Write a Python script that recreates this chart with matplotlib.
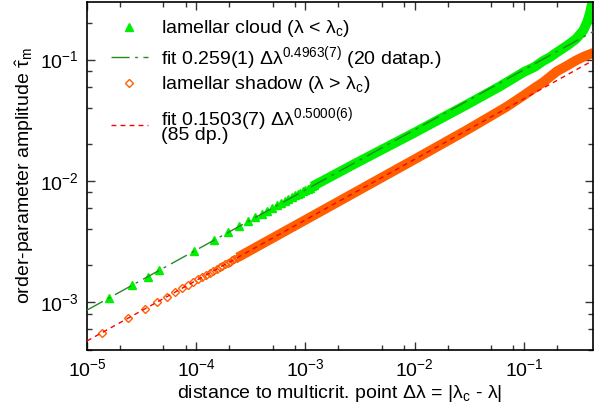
import numpy as np
import matplotlib
matplotlib.use('Agg')
import matplotlib.pyplot as plt
from matplotlib.ticker import LogLocator, NullFormatter

plt.rcParams['font.family'] = ['Liberation Sans', 'DejaVu Sans']
plt.rcParams['mathtext.fontset'] = 'custom'
plt.rcParams['mathtext.rm'] = 'Liberation Sans'
plt.rcParams['mathtext.it'] = 'Liberation Sans:italic'
plt.rcParams['mathtext.bf'] = 'Liberation Sans:bold'
plt.rcParams['axes.unicode_minus'] = False

# lamellar cloud: sparse data points (first 20 were used for the fit)
cloud_dl = [1.6e-5, 2.6e-5, 3.6e-5, 4.6e-5, 9.6e-5, 1.46e-4, 1.96e-4, 2.46e-4,
            2.96e-4, 3.46e-4, 3.96e-4, 4.46e-4, 4.96e-4, 5.46e-4, 5.96e-4,
            6.46e-4, 6.96e-4, 7.46e-4, 7.96e-4, 8.46e-4, 8.96e-4, 9.46e-4,
            9.96e-4, 1.046e-3, 1.096e-3, 1.146e-3, 1.196e-3]
cloud_tau = [1.080e-3, 1.376e-3, 1.618e-3, 1.828e-3, 2.638e-3, 3.250e-3,
             3.765e-3, 4.216e-3, 4.623e-3, 4.996e-3, 5.345e-3, 5.670e-3,
             5.980e-3, 6.272e-3, 6.553e-3, 6.822e-3, 7.078e-3, 7.328e-3,
             7.570e-3, 7.804e-3, 7.95e-3, 8.16e-3, 8.37e-3, 8.58e-3,
             8.78e-3, 8.98e-3, 9.17e-3]
# lamellar cloud: dense part (points merge into a band)
cloud_band_dl = [1.15e-3, 3e-3, 1e-2, 3e-2, 6e-2, 0.1, 0.125, 0.15, 0.175,
                 0.2, 0.25, 0.3, 0.35, 0.38, 0.40, 0.42, 0.435]
cloud_band_tau = [8.95e-3, 0.0142, 0.0250, 0.0425, 0.0600, 0.0791, 0.0870,
                  0.0976, 0.1053, 0.1147, 0.1310, 0.1483, 0.1743, 0.2049,
                  0.2386, 0.2886, 0.363]

# lamellar shadow: sparse data points
shadow_dl = [1.37e-5, 2.37e-5, 3.37e-5, 4.37e-5, 5.37e-5, 6.37e-5, 7.37e-5,
             8.37e-5, 9.37e-5, 1.037e-4, 1.137e-4, 1.237e-4, 1.337e-4,
             1.437e-4, 1.537e-4, 1.637e-4, 1.737e-4, 1.837e-4, 1.937e-4,
             2.037e-4, 2.137e-4, 2.237e-4, 2.337e-4, 2.437e-4]
shadow_tau = [5.56e-4, 7.32e-4, 8.73e-4, 9.94e-4, 1.101e-3, 1.200e-3,
              1.290e-3, 1.375e-3, 1.455e-3, 1.531e-3, 1.603e-3, 1.672e-3,
              1.738e-3, 1.802e-3, 1.863e-3, 1.923e-3, 1.981e-3, 2.037e-3,
              2.092e-3, 2.145e-3, 2.197e-3, 2.248e-3, 2.298e-3, 2.346e-3]
# lamellar shadow: dense part
shadow_band_dl = [2.4e-4, 1e-3, 1e-2, 3e-2, 5e-2, 0.07, 0.1, 0.13, 0.15,
                  0.2, 0.25, 0.3, 0.35, 0.435]
shadow_band_tau = [2.33e-3, 4.75e-3, 0.01503, 0.0262, 0.0343, 0.0410,
                   0.0508, 0.0598, 0.0650, 0.0800, 0.0895, 0.0985, 0.1055,
                   0.1140]

# fit parameters (from legend)
fit_cloud = (0.259, 0.4963)
fit_shadow = (0.1503, 0.5000)
fit_range = np.array([1e-5, 0.435])

GREEN = '#00ee00'
ORANGE = '#ff5f00'

fig = plt.figure(figsize=(5.94, 4.13), dpi=100)
ax = fig.add_axes([0.1465, 0.1525, 0.852, 0.843])

# bands
ax.plot(cloud_band_dl, cloud_band_tau, '-', color=GREEN, lw=7,
        solid_capstyle='butt', solid_joinstyle='round', zorder=2)
ax.plot(shadow_band_dl, shadow_band_tau, '-', color=ORANGE, lw=7,
        solid_capstyle='butt', solid_joinstyle='round', zorder=2)

h1, = ax.plot(cloud_dl, cloud_tau, '^', color=GREEN, ms=6, mec=GREEN, zorder=3)
h2, = ax.plot(fit_range, fit_cloud[0] * fit_range ** fit_cloud[1],
              color='#228b22', lw=1.0, dashes=(13, 4, 2, 4), zorder=4)
h3, = ax.plot(shadow_dl, shadow_tau, 'D', color=ORANGE, ms=4.5, mfc='none',
              mec=ORANGE, mew=1.0, zorder=3)
h4, = ax.plot(fit_range, fit_shadow[0] * fit_range ** fit_shadow[1],
              color='red', lw=1.0, dashes=(3.5, 3), zorder=4)

ax.set_xscale('log')
ax.set_yscale('log')
ax.set_xlim(1e-5, 0.43)
ax.set_ylim(4.0e-4, 0.30)

ax.xaxis.set_minor_locator(LogLocator(base=10, subs=[2, 5, 8]))
ax.yaxis.set_minor_locator(LogLocator(base=10, subs=[2, 4, 6, 8]))
ax.xaxis.set_minor_formatter(NullFormatter())
ax.yaxis.set_minor_formatter(NullFormatter())
ax.tick_params(which='both', direction='in', top=True, right=True,
               labelsize=14, width=1.0, color='#333333')
ax.tick_params(which='major', length=6, pad=6)
ax.tick_params(which='minor', length=3.5)
for s in ax.spines.values():
    s.set_linewidth(1.2)

ax.set_xlabel(r'distance to multicrit. point Δλ = |$\mathregular{λ_c}$ - λ|',
              fontsize=14, labelpad=2)
ax.set_ylabel(r'order-parameter amplitude $\mathregular{\hat{τ}_m}$',
              fontsize=14, labelpad=3)

# legend, one entry per box (gnuplot-like uneven row spacing)
entries = [
    (h1, r'lamellar cloud (λ < $\mathregular{λ_c}$)', 29),
    (h2, r'fit 0.259(1) $\mathregular{Δλ^{0.4963(7)}}$ (20 datap.)', 58),
    (h3, r'lamellar shadow (λ > $\mathregular{λ_c}$)', 85),
    (h4, 'fit 0.1503(7) $\\mathregular{Δλ^{0.5000(6)}}$\n(85 dp.)', 125),
]
for i, (handle, text, ypix) in enumerate(entries):
    yfrac = 1 - (ypix - 2) / 348.0
    leg = ax.legend([handle], [text], loc='center left', frameon=False,
                    fontsize=14, handlelength=1.9, handletextpad=0.7,
                    borderpad=0.0, borderaxespad=0.0, numpoints=1,
                    bbox_to_anchor=(0.047, yfrac))
    for t in leg.get_texts():
        t.set_linespacing(0.55)
    if i < len(entries) - 1:
        ax.add_artist(leg)

fig.savefig('out.png', dpi=100)
